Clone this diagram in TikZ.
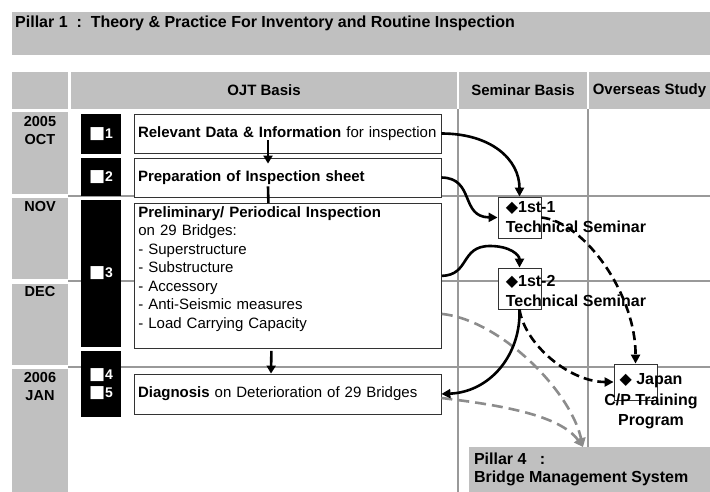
\documentclass[tikz,border=0pt]{standalone}
\usepackage{fontspec}
\setmainfont{Liberation Sans}
\newfontfamily\symfont{DejaVu Sans}
\usetikzlibrary{arrows.meta,positioning}

\definecolor{bandgray}{HTML}{C0C0C0}
\definecolor{gridgray}{HTML}{999999}
\definecolor{dashgray}{HTML}{8C8C8C}

\newcommand{\wsq}{{\symfont\fontsize{17}{15}\selectfont ■}}
\newcommand{\bdia}{{\symfont ◆}}

\tikzset{
  hdr/.style={fill=bandgray, minimum height=37pt, inner sep=0pt,
    font=\bfseries\fontsize{15}{17}\selectfont},
  month/.style={align=center, inner sep=0pt,
    font=\bfseries\fontsize{14.5}{17.5}\selectfont},
  numbox/.style={fill=black, text=white, minimum width=40pt, inner sep=0pt,
    align=center, font=\bfseries\fontsize{14}{18}\selectfont},
  task/.style={draw=black!80, line width=0.8pt, fill=white, text width=299pt,
    inner xsep=4pt, inner ysep=3pt, align=left,
    font=\fontsize{15}{18.5}\selectfont},
  gridline/.style={gridgray, line width=1.6pt},
  frame/.style={draw=black!80, line width=0.8pt, fill=white, inner sep=0pt},
  semtext/.style={align=left, inner sep=0pt,
    font=\bfseries\fontsize{16}{20}\selectfont},
  vflow/.style={line width=2.6pt, -{Triangle[length=8pt,width=9pt]}},
  link/.style={line width=2.6pt, -{Triangle[length=9pt,width=9pt]}},
  linkdash/.style={link, dash pattern=on 9pt off 5pt},
  linkgray/.style={link, dashgray, dash pattern=on 11pt off 6pt}
}

\begin{document}
\begin{tikzpicture}[x=1pt,y=-1pt]
  \useasboundingbox (0,0) rectangle (710,492);

  % title band
  \fill[bandgray] (12,12) rectangle (710,55);
  \node[anchor=west, inner sep=0pt, font=\bfseries\fontsize{16}{18}\selectfont]
    (title) at (15,23) {Pillar 1\ \ :\ \ Theory \& Practice For Inventory and Routine Inspection};

  % header row
  \foreach \n/\x/\w/\t in {hcorner/40/56/{}, hojt/264/386/OJT Basis,
      hsem/523/128/Seminar Basis, hovs/649.5/121/Overseas Study}
    \node[hdr, minimum width=\w pt] (\n) at (\x,90.5) {\t};

  % month column and grid
  \foreach \a/\b in {112/194,198/279,284/365,369/492}
    \fill[bandgray] (12,\a) rectangle (68,\b);
  \foreach \y in {196,281,367}
    \draw[gridline] (68,\y) -- (710,\y);
  \foreach \x in {458,588}
    \draw[gridline] (\x,109) -- (\x,492);

  \node[month] (oct) at (40,130.5) {2005\\OCT};
  \node[month] (nov) at (40,207) {NOV};
  \node[month] (dec) at (40,292) {DEC};
  \node[month] (jan) at (40,386.5) {2006\\JAN};

  % numbered steps
  \node[numbox, minimum height=40pt] (n1) at (101,134) {\wsq1};
  \node[numbox, minimum height=38pt] (n2) at (101,177) {\wsq2};
  \node[numbox, minimum height=147pt] (n3) at (101,273.5) {\wsq3};
  \node[numbox, minimum height=66pt] (n45) at (101,384) {\wsq4\\\wsq5};

  % OJT tasks
  \node[task, minimum height=39pt] (t1) at (287.5,133.5)
    {\textbf{Relevant Data \& Information} for inspection};
  \node[task, minimum height=39pt] (t2) at (287.5,177.5)
    {\textbf{Preparation of Inspection sheet}};
  \node[task, anchor=north west, text height=11pt, text depth=128pt] (t3) at (134,203)
    {\textbf{Preliminary/ Periodical Inspection}\\on 29 Bridges:\\- Superstructure\\
     - Substructure\\- Accessory\\- Anti-Seismic measures\\- Load Carrying Capacity};
  \node[task, minimum height=40pt] (t4) at (287.5,394)
    {\textbf{Diagnosis} on Deterioration of 29 Bridges};

  \draw[vflow] ([xshift=-19.5pt,yshift=13pt]t1.south) -- ([xshift=-19.5pt,yshift=-6pt]t2.north);
  \draw[line width=2.6pt] ([xshift=-19.5pt,yshift=11pt]t2.south) -- ([xshift=-19.5pt]t3.north);
  \draw[vflow] ([xshift=-16.5pt,yshift=-2pt]t3.south) -- ([xshift=-16.5pt]t4.north);

  % seminars and study
  \node[frame, minimum width=43pt, minimum height=41pt] (s1) at (519.5,217.5) {};
  \node[semtext, anchor=west] (s1txt) at ([xshift=8pt]s1.west) {\bdia1st-1\\Technical Seminar};
  \node[frame, minimum width=43pt, minimum height=41pt] (s2) at (519.5,288.5) {};
  \node[semtext, anchor=west] (s2txt) at ([xshift=8pt,yshift=-2pt]s2.west) {\bdia1st-2\\Technical Seminar};
  \node[frame, minimum width=43pt, minimum height=36pt] (jp) at (635.5,382) {};
  \node[semtext, align=center, font=\bfseries\fontsize{16}{20.5}\selectfont]
    (jptxt) at (651,401.5) {\bdia{} Japan\\C/P Training\\Program};

  % pillar 4
  \node[fill=bandgray, minimum width=241pt, minimum height=45pt, inner sep=0pt] (p4) at (589.5,469.5) {};
  \node[semtext, anchor=west, font=\bfseries\fontsize{16}{18}\selectfont]
    (p4txt) at ([xshift=5pt]p4.west) {Pillar 4\ \ \ :\\Bridge Management System};
  \coordinate (p4in) at (583,447);

  % links
  \draw[linkgray] ([yshift=-38pt]t3.east) .. controls (500,320) and (570,390) .. (p4in);
  \draw[linkgray] ([yshift=-4pt]t4.east) .. controls (500,405) and (560,415) .. (p4in);
  \draw[link] (t1.east) .. controls +(50,0) and +(0,-37) .. (s1.north);
  \draw[link] (t2.east) .. controls (475,178) and (460,217) .. (s1.west);
  \draw[link] (t3.east) .. controls (470,275) and (460,246) .. (490,246)
    .. controls (510,246) and (519.5,255) .. (s2.north);
  \draw[link] (s2.south) .. controls (521,355) and (490,392) .. (t4.east);
  \draw[linkdash] (s1.east) .. controls (585,222) and (636,295) .. (jp.north);
  \draw[linkdash] (s2.south) .. controls (525,345) and (570,382) .. (jp.west);
\end{tikzpicture}
\end{document}
